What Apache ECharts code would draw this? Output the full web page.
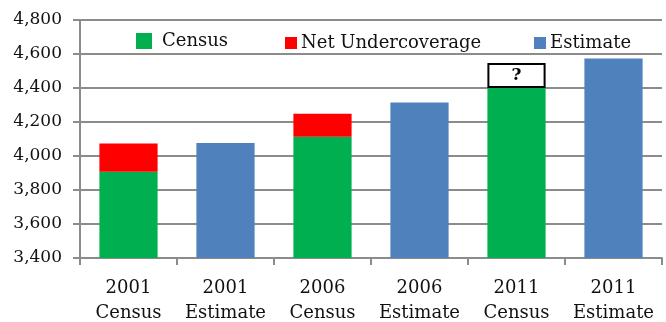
<!DOCTYPE html>
<html><head><meta charset="utf-8">
<script src="https://cdn.jsdelivr.net/npm/echarts@6/dist/echarts.min.js"></script>
<style>html,body{margin:0;padding:0;background:#fff}#c{width:666px;height:322px}</style>
</head><body><div id="c"></div>
<script>
const categories = ['2001\nCensus','2001\nEstimate','2006\nCensus','2006\nEstimate','2011\nCensus','2011\nEstimate'];
const censusValues = [3908, null, 4113, null, 4400, null];
const undercoverageValues = [166, null, 135, null, null, null];
const unknownBox = [null, null, null, null, 147, null];
const estimateValues = [null, 4077, null, 4315, null, 4573];
const yTicks = {min: 3400, max: 4800, interval: 200};

const FONT = 'DejaVu Serif';
const chart = echarts.init(document.getElementById('c'), null, {renderer: 'canvas'});
const gridColor = '#8c8c8c';
function leg(name, left, size, top, gap){
  return {data:[name], left:left, top:top, itemWidth:size, itemHeight:size, itemGap:0,
    icon:'rect', selectedMode:false, padding:0,
    textStyle:{fontFamily:FONT, fontSize:18, color:'#111', padding:[0,0,0,gap]}};
}
chart.setOption({
  animation:false,
  legend:[leg('Census',136,16,32,5), leg('Net Undercoverage',285,12,34,-1), leg('Estimate',534,12,34,-1)],
  grid:{left:80, right:4, top:20, bottom:64, containLabel:false, outerBoundsMode:'none'},
  xAxis:{type:'category', data:categories,
    axisLine:{lineStyle:{color:gridColor, width:2}},
    axisTick:{show:true, length:7, lineStyle:{color:gridColor, width:2}},
    axisLabel:{interval:0, fontFamily:FONT, fontSize:18, color:'#111', lineHeight:25, margin:18}},
  yAxis:{type:'value', min:yTicks.min, max:yTicks.max, interval:yTicks.interval,
    axisLine:{show:true, lineStyle:{color:gridColor, width:2}},
    axisTick:{show:true, length:7, lineStyle:{color:gridColor, width:2}},
    splitLine:{lineStyle:{color:gridColor, width:2}},
    axisLabel:{fontFamily:FONT, fontSize:17, color:'#111', margin:18,
      formatter:v=>v.toLocaleString('en-US')}},
  series:[
    {name:'Census', type:'bar', stack:'t', data:censusValues, barCategoryGap:'40%',
      itemStyle:{color:'#00B050'}},
    {name:'Net Undercoverage', type:'bar', stack:'t', data:undercoverageValues,
      itemStyle:{color:'#FF0000'}},
    {name:'Unknown', type:'bar', stack:'t', data:unknownBox,
      itemStyle:{color:'#fff', borderColor:'#000', borderWidth:2},
      label:{show:true, position:'inside', formatter:'?', fontFamily:FONT, fontWeight:'bold', fontSize:17, color:'#000'}},
    {name:'Estimate', type:'bar', stack:'t', data:estimateValues,
      itemStyle:{color:'#4F81BD'}}
  ]
});
</script></body></html>
